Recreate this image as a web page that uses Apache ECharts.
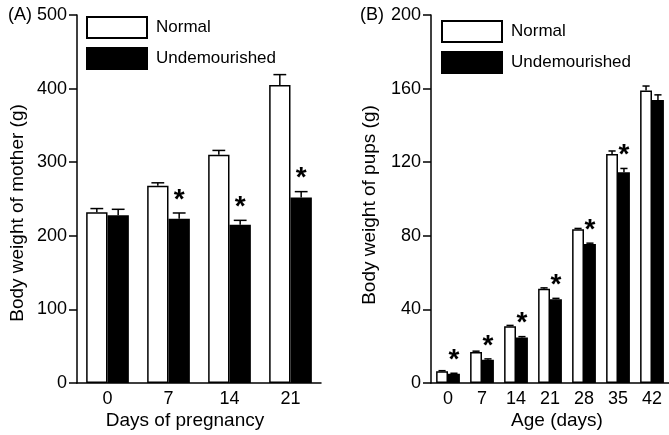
<!DOCTYPE html>
<html>
<head>
<meta charset="utf-8">
<script src="https://cdn.jsdelivr.net/npm/echarts@6/dist/echarts.min.js"></script>
<style>
  html, body { margin: 0; padding: 0; background: #fff; }
  #chart { width: 669px; height: 435px; }
</style>
</head>
<body>
<div id="chart"></div>
<script>
// panel A: mother weight during pregnancy
const daysA = ['0', '7', '14', '21']
const normalA = [232, 268, 310, 405]
const normalErrA = [5, 4, 6, 14]
const underA = [228, 223, 215, 252]
const underErrA = [8, 8, 6, 8]
const sigA = [0, 1, 1, 1]

// panel B: pups weight by age
const daysB = ['0', '7', '14', '21', '28', '35', '42']
const normalB = [6.4, 16.8, 30.8, 51.2, 83.5, 124.5, 159]
const normalErrB = [0.3, 0.5, 0.5, 0.5, 0.5, 1.6, 2.4]
const underB = [5, 12.6, 24.7, 45.5, 75.5, 114.6, 153.8]
const underErrB = [0.3, 0.5, 0.5, 0.5, 0.5, 2, 2.8]
const sigB = [1, 1, 1, 1, 1, 1, 0]

const FONT = '"Liberation Sans", Arial, sans-serif'
const GAP = 0.3

const chart = echarts.init(document.getElementById('chart'))

// error whisker (upwards only) + asterisk
const errSeries = (idx, means, errs, side, sig) => ({
  type: 'custom',
  xAxisIndex: idx,
  yAxisIndex: idx,
  z: 5,
  silent: true,
  data: means.map((m, i) => [i, m, errs[i], sig ? sig[i] : 0]),
  renderItem: (params, api) => {
    const i = api.value(0)
    const band = api.size([1, 0])[0]
    const bw = band * (1 - GAP) / 2
    const x = api.coord([i, 0])[0] + side * bw / 2
    const yBar = api.coord([i, api.value(1)])[1]
    const yTop = api.coord([i, api.value(1) + api.value(2)])[1]
    const cap = bw * 0.6
    const st = {stroke: '#000', lineWidth: 1.5}
    const children = [
      {type: 'line', shape: {x1: x, y1: yBar, x2: x, y2: yTop}, style: st},
      {type: 'line', shape: {x1: x - cap / 2, y1: yTop, x2: x + cap / 2, y2: yTop}, style: st}
    ]
    if (api.value(3)) {
      children.push({
        type: 'text',
        style: {
          text: '*', x: x, y: yTop + 1, align: 'center', verticalAlign: 'bottom',
          font: 'bold 28px ' + FONT, fill: '#000'
        }
      })
    }
    return {type: 'group', children}
  }
})

const barSeries = (idx, name, data, fill) => ({
  type: 'bar',
  name: name,
  xAxisIndex: idx,
  yAxisIndex: idx,
  data: data,
  barGap: '0%',
  barCategoryGap: (GAP * 100) + '%',
  itemStyle: {color: fill, borderColor: '#000', borderWidth: 1.5},
  emphasis: {disabled: true}
})

const xAxis = (idx, cats) => ({
  type: 'category',
  gridIndex: idx,
  data: cats,
  axisLine: {lineStyle: {color: '#000', width: 1.5}},
  axisTick: {show: false},
  axisLabel: {color: '#000', fontSize: 18, fontFamily: FONT, margin: 7}
})

const yAxis = (idx, max, interval) => ({
  type: 'value',
  gridIndex: idx,
  min: 0,
  max: max,
  interval: interval,
  splitLine: {show: false},
  axisLine: {show: true, lineStyle: {color: '#000', width: 1.5}},
  axisTick: {show: true, length: 8, lineStyle: {color: '#000', width: 1.5}},
  axisLabel: {color: '#000', fontSize: 18, fontFamily: FONT, margin: 10}
})

const legend = (left, top) => ({
  left: left,
  top: top,
  orient: 'vertical',
  data: ['Normal', 'Undemourished'],
  icon: 'rect',
  itemWidth: 60,
  itemHeight: 21,
  itemGap: 8,
  selectedMode: false,
  textStyle: {color: '#000', fontSize: 17, fontFamily: FONT, padding: [0, 0, 0, 4]}
})

const txt = (text, x, y, size, rot) => ({
  type: 'text',
  x: x,
  y: y,
  rotation: rot || 0,
  style: {text: text, align: 'center', verticalAlign: 'middle', font: size + 'px ' + FONT, fill: '#000'}
})

const option = {
  animation: false,
  backgroundColor: '#fff',
  grid: [
    {left: 77, top: 15, width: 244, height: 368},
    {left: 431, top: 15, width: 245, height: 368}
  ],
  xAxis: [xAxis(0, daysA), xAxis(1, daysB)],
  yAxis: [yAxis(0, 500, 100), yAxis(1, 200, 40)],
  legend: [legend(81, 11), legend(436, 15)],
  graphic: [
    txt('(A)', 20, 15, 18),
    txt('(B)', 372, 15, 18),
    txt('Body weight of mother (g)', 18, 213, 19, Math.PI / 2),
    txt('Body weight of pups (g)', 370, 205, 19, Math.PI / 2),
    txt('Days of pregnancy', 185, 421, 19),
    txt('Age (days)', 557, 421, 19)
  ],
  series: [
    barSeries(0, 'Normal', normalA, '#fff'),
    barSeries(0, 'Undemourished', underA, '#000'),
    barSeries(1, 'Normal', normalB, '#fff'),
    barSeries(1, 'Undemourished', underB, '#000'),
    errSeries(0, normalA, normalErrA, -1, null),
    errSeries(0, underA, underErrA, 1, sigA),
    errSeries(1, normalB, normalErrB, -1, null),
    errSeries(1, underB, underErrB, 1, sigB)
  ]
}

chart.setOption(option)
</script>
</body>
</html>
